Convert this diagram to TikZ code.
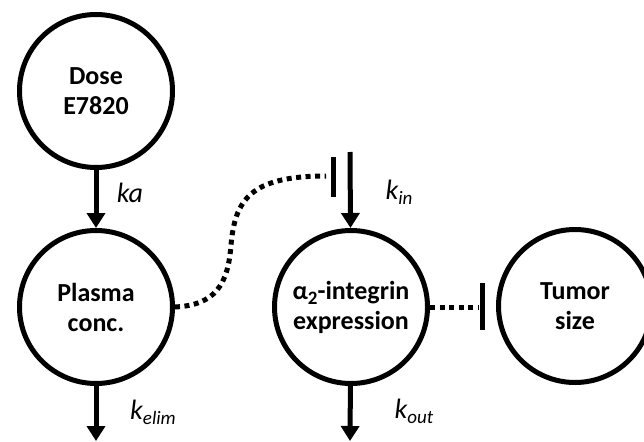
\documentclass[tikz,border=0pt]{standalone}
\usepackage{fontspec}
\setmainfont{Carlito}
\usetikzlibrary{arrows.meta}
\newcommand\mysub[2]{\raisebox{-#1}{\fontsize{19}{19}\selectfont #2}}
\begin{document}
\begin{tikzpicture}[x=1pt,y=-1pt,
  comp/.style={circle,draw=black,line width=5pt,minimum size=153pt,inner sep=0pt,
    align=center,font=\fontsize{26}{30}\selectfont\bfseries},
  flow/.style={line width=5pt,-{Triangle[length=15pt,width=18pt]}},
  dots/.style={line width=5pt,dash pattern=on 5pt off 4.5pt},
  bar/.style={line width=5pt},
  rate/.style={font=\fontsize{28}{30}\selectfont\itshape,inner sep=0pt}]
\useasboundingbox (0,0) rectangle (644,441);
\node[comp] (dose) at (96,91) {Dose\\E7820};
\node[comp] (plasma) at (96,307) {Plasma\\conc.};
\node[comp] (alpha) at (351,307) {α\mysub{5pt}{2}-integrin\\expression};
\node[comp] (tumor) at (575,306) {Tumor\\size};
\coordinate (elim) at (96,441);
\coordinate (out) at (350,441);
\coordinate (in) at (350,152);
\coordinate (mid) at (231,245);
\coordinate (inhA) at (326,176);
\coordinate (barAt) at (333.5,157);
\coordinate (barAb) at (333.5,197);
\coordinate (inhB) at (478,307);
\coordinate (barBt) at (482,283);
\coordinate (barBb) at (482,330);
\draw[flow] (dose) -- (plasma);
\draw[flow] (plasma) -- (elim);
\draw[flow] (in) -- (alpha);
\draw[flow] (alpha) -- (out);
\draw[dots] (plasma.east) .. controls (215,305) and (228,285) .. (mid)
  .. controls (235,200) and (250,176) .. (inhA);
\draw[bar] (barAt) -- (barAb);
\draw[dots] (alpha.east) -- (inhB);
\draw[bar] (barBt) -- (barBb);
\node[rate] (ka) at (130,193) {ka};
\node[rate] (kin) at (399,192) {k\mysub{5pt}{in}};
\node[rate] (kelim) at (153,412) {k\mysub{5pt}{elim}};
\node[rate] (kout) at (414,411) {k\mysub{5pt}{out}};
\end{tikzpicture}
\end{document}
